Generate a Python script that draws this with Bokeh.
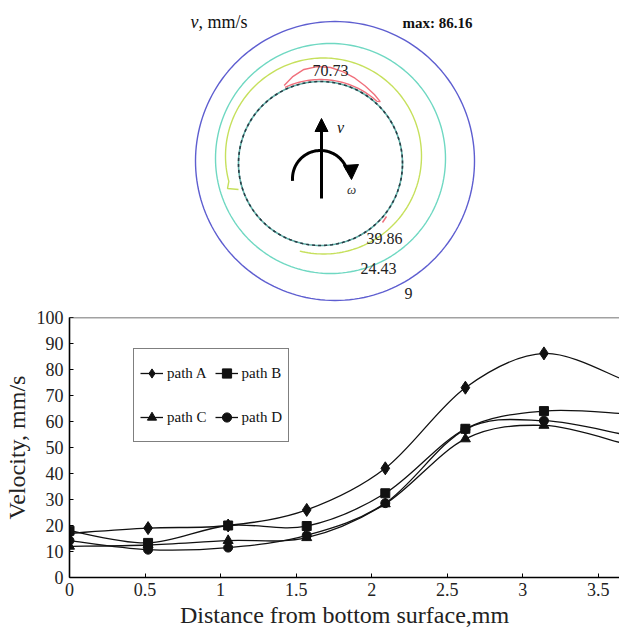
import math
from bokeh.plotting import figure
from bokeh.layouts import column
from bokeh.models import Range1d, Legend, LegendItem, Span, Arrow, NormalHead, ColumnDataSource, FixedTicker
from bokeh.core.properties import value
from bokeh.embed import file_html
from bokeh.resources import INLINE

# ---------------- data ----------------
contour_levels = [9, 24.43, 39.86, 70.73]
max_velocity = 86.16

distance = [0, 0.52, 1.05, 1.57, 2.09, 2.62, 3.14, 3.67]
path_a = [17, 19, 20, 26, 42, 73, 86.2, 76]
path_b = [18, 13.3, 20, 19.8, 32.4, 57.2, 64, 63]
path_c = [12, 12.5, 14.2, 15.3, 28.3, 53.3, 58.5, 51.5]
path_d = [14.2, 10.7, 11.5, 16.2, 28.6, 57, 60.3, 55]
series_names = ["path A", "path B", "path C", "path D"]
series_markers = ["diamond", "square", "triangle", "circle"]
series_sizes = [13, 9, 10, 9]

x_ticks = [0, 0.5, 1, 1.5, 2, 2.5, 3, 3.5]
x_tick_labels = ["0", "0.5", "1", "1.5", "2", "2.5", "3", "3.5"]
y_ticks = [0, 10, 20, 30, 40, 50, 60, 70, 80, 90, 100]

SERIF = "Liberation Serif"
W = 619
TOP_H = 305      # top diagram height (y 0..305)
BOT_H = 328      # bottom chart height (y 305..633)
LEFT_B = 69

# ---------------- top diagram (pixel-like coordinates) ----------------
top = figure(width=W, height=TOP_H, x_range=Range1d(LEFT_B, W), y_range=Range1d(TOP_H, 0),
             x_axis_type=None, y_axis_type=None, output_backend="svg",
             toolbar_location=None, min_border=0, min_border_left=LEFT_B, min_border_right=0)
top.grid.visible = False
top.outline_line_color = None


def arc_pts(cx, cy, r, a0, a1, n=180):
    xs, ys = [], []
    for i in range(n + 1):
        t = math.radians(a0 + (a1 - a0) * i / n)
        xs.append(cx + r * math.cos(t))
        ys.append(cy - r * math.sin(t))
    return xs, ys

# level 9 (blue), 24.43 (cyan)
xs, ys = arc_pts(334.5, 160.5, 139.5, 0, 360)
top.line(xs, ys, line_color="#5e5ed0", line_width=1.4)
xs, ys = arc_pts(330, 158, 115, 0, 360)
top.line(xs, ys, line_color="#6fd8c2", line_width=1.4)
# level 39.86 (yellow-green), open arc with hook
xs, ys = arc_pts(323, 155.5, 98, 195, -104)
xs = [238, 227] + xs
ys = [189, 188] + ys
top.line(xs, ys, line_color="#c6e05c", line_width=1.4)
# tool shoulder circle (dashed)
xs, ys = arc_pts(320, 163, 82, 0, 360)
top.line(xs, ys, line_color="#5fb0a8", line_width=1.6)
top.line(xs, ys, line_color="#2a3a44", line_width=1.6, line_dash="3 3")
# level 70.73 (red crescent)
outer = [(115, 86), (108, 91), (100, 95.5), (92, 97), (84, 96.5), (76, 94.5), (68, 92), (60, 89.5), (52, 87.5), (46, 86)]
cx, cy = 320, 163
rx = [cx + r * math.cos(math.radians(a)) for a, r in outer]
ry = [cy - r * math.sin(math.radians(a)) for a, r in outer]
ix, iy = arc_pts(cx, cy, 84, 46, 115, 40)
top.line(rx + ix[1:], ry + iy[1:], line_color="#f0707c", line_width=1.4)
top.line([382, 386], [222, 216], line_color="#f0707c", line_width=1.4)

# velocity arrow
top.add_layout(Arrow(end=NormalHead(size=13, fill_color="black", line_color="black"),
                     x_start=321, y_start=198, x_end=321, y_end=118,
                     line_width=3, line_color="black"))
# rotation arrow
xs, ys = arc_pts(320, 178, 28, 185, 18, 60)
top.line(xs, ys, line_color="black", line_width=3)
top.patch([343, 358, 351], [165, 164, 179], fill_color="black", line_color="black")

top.text([340], [127], text=["v"], text_font=value(SERIF), text_font_style="italic",
         text_font_size="16px", text_align="center", text_baseline="middle", text_color="#111")
top.text([351], [189], text=["ω"], text_font=value(SERIF), text_font_style="italic",
         text_font_size="13px", text_align="center", text_baseline="middle", text_color="#333")

# contour labels
lab_x = [408, 378, 384, 330]
lab_y = [293, 268, 238, 70]
top.text(lab_x, lab_y, text=[f"{v:g}" for v in contour_levels], text_font=value(SERIF),
         text_font_size="16px", text_align="center", text_baseline="middle", text_color="#222")

top.text([190], [21], text=["v"], text_font=value(SERIF), text_font_style="italic",
         text_font_size="18px", text_align="left", text_baseline="middle", text_color="#111")
top.text([198], [21], text=[", mm/s"], text_font=value(SERIF),
         text_font_size="18px", text_align="left", text_baseline="middle", text_color="#111")
top.text([402], [22], text=[f"max: {max_velocity:g}"], text_font=value(SERIF), text_font_style="bold",
         text_font_size="15px", text_align="left", text_baseline="middle", text_color="#111")

# ---------------- bottom chart ----------------
p = figure(width=W, height=BOT_H, x_range=Range1d(0, 3.64), y_range=Range1d(0, 100),
           output_backend="svg", toolbar_location=None,
           min_border_top=12, min_border_left=LEFT_B, min_border_right=0, min_border_bottom=56)
p.grid.visible = False
p.outline_line_color = None
p.add_layout(Span(location=100, dimension="width", line_color="#444", line_width=1.5))

p.xaxis.ticker = FixedTicker(ticks=x_ticks)
p.xaxis.major_label_overrides = {t: l for t, l in zip(x_ticks, x_tick_labels)}
p.yaxis.ticker = FixedTicker(ticks=y_ticks)
for ax in (p.xaxis, p.yaxis):
    ax.axis_line_width = 1.6
    ax.axis_line_color = "black"
    ax.major_tick_in = 4
    ax.major_tick_out = 0
    ax.minor_tick_line_color = None
    ax.major_label_text_font = SERIF
    ax.major_label_text_font_size = "18px"
    ax.major_label_text_color = "#222"
    ax.axis_label_text_font = SERIF
    ax.axis_label_text_font_size = "24px"
    ax.axis_label_text_font_style = "normal"
    ax.axis_label_text_color = "#222"
p.xaxis.major_label_standoff = 5
p.xaxis.axis_label_standoff = 3
p.yaxis.major_label_standoff = 6
p.yaxis.axis_label_standoff = 4
p.xaxis.axis_label = "Distance from bottom surface,mm"
p.yaxis.axis_label = "Velocity, mm/s"


def bezier_parts(xv, yv):
    n = len(xv)
    out = dict(x0=[], y0=[], x1=[], y1=[], cx0=[], cy0=[], cx1=[], cy1=[])
    for i in range(n - 1):
        xm, ym = (xv[i - 1], yv[i - 1]) if i > 0 else (xv[i], yv[i])
        xp, yp = (xv[i + 2], yv[i + 2]) if i + 2 < n else (xv[i + 1], yv[i + 1])
        out["x0"].append(xv[i]); out["y0"].append(yv[i])
        out["x1"].append(xv[i + 1]); out["y1"].append(yv[i + 1])
        out["cx0"].append(xv[i] + (xv[i + 1] - xm) / 6)
        out["cy0"].append(yv[i] + (yv[i + 1] - ym) / 6)
        out["cx1"].append(xv[i + 1] - (xp - xv[i]) / 6)
        out["cy1"].append(yv[i + 1] - (yp - yv[i]) / 6)
    return out

items = {}
all_series = [path_a, path_b, path_c, path_d]
for name, yv, mk, sz in zip(series_names, all_series, series_markers, series_sizes):
    src = ColumnDataSource(bezier_parts(distance, yv))
    bz = p.bezier(x0="x0", y0="y0", x1="x1", y1="y1", cx0="cx0", cy0="cy0", cx1="cx1", cy1="cy1",
                  source=src, line_color="#111", line_width=1.3)
    sc = p.scatter(distance[:7], yv[:7], marker=mk, size=sz,
                   fill_color="#111", line_color="#111")
    items[name] = LegendItem(label=name, renderers=[bz, sc])

# column-major fill -> order A, C, B, D gives rows "A B" / "C D"
legend = Legend(items=[items["path A"], items["path C"], items["path B"], items["path D"]],
                ncols=2, location=(64, 135),
                label_text_font=SERIF, label_text_font_size="15px", label_text_color="#111",
                glyph_width=23, glyph_height=36, label_height=36, label_standoff=4,
                spacing=8, padding=6, margin=0,
                border_line_color="black", border_line_width=1.2,
                background_fill_color="white", background_fill_alpha=1)
p.add_layout(legend, "center")

layout = column(top, p, spacing=0)
open("out.html", "w").write(file_html(layout, INLINE))
